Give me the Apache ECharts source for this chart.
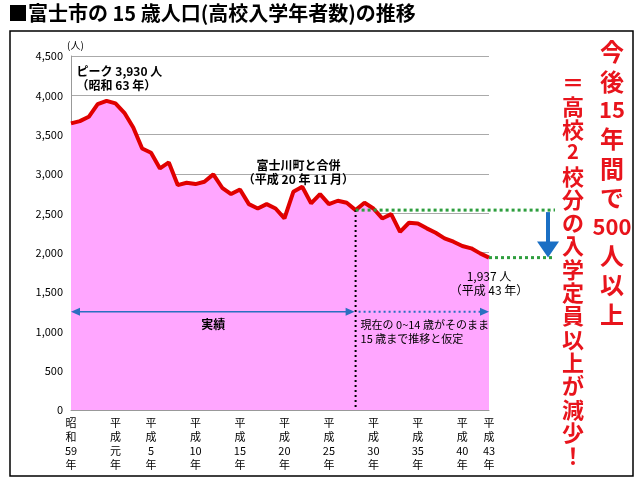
<!DOCTYPE html>
<html>
<head>
<meta charset="utf-8">
<script src="https://cdn.jsdelivr.net/npm/echarts@6/dist/echarts.min.js"></script>
<style>
	html, body { margin: 0; padding: 0; background: #fff; }
	#main { width: 640px; height: 488px; }
</style>
</head>
<body>
<div id="main"></div>
<script>
	'use strict'
	/*-----data-----*/
	var years = ['昭和59年', '昭和60年', '昭和61年', '昭和62年', '昭和63年', '平成元年'];
	for (var h = 2; h <= 43; h++) years.push('平成' + h + '年');
	var population = [3643, 3672, 3727, 3888, 3930, 3897, 3778, 3592, 3325, 3270,
		3071, 3147, 2859, 2888, 2872, 2901, 2995, 2825, 2745, 2804,
		2617, 2562, 2617, 2562, 2435, 2774, 2838, 2627, 2745, 2617,
		2660, 2634, 2541, 2634, 2562, 2435, 2490, 2265, 2380, 2372,
		2309, 2253, 2182, 2139, 2084, 2055, 1991, 1937];
	var shownLabels = [0, 5, 9, 14, 19, 24, 29, 34, 39, 44, 47];
	var currentIndex = 32;
	var yTicks = [0, 500, 1000, 1500, 2000, 2500, 3000, 3500, 4000, 4500];
	var col1 = ['今', '後', '15', '年', '間', 'で', '500', '人', '以', '上'];
	var col2 = ['＝', '高', '校', '2', '校', '分', 'の', '入', '学', '定', '員', '以', '上', 'が', '減', '少', '！'];

	var font = '"Noto Sans CJK JP", sans-serif';
	var chart = echarts.init(document.getElementById('main'));
	var option = {
		animation: false,
		grid: { left: 71, right: 151, top: 56, bottom: 78 },
		xAxis: {
			type: 'category',
			data: years,
			boundaryGap: false,
			axisTick: { show: false },
			axisLine: { lineStyle: { color: '#999' } },
			axisLabel: {
				interval: function(i) { return shownLabels.indexOf(i) >= 0; },
				formatter: function(v) {
					var s = v.replace('年', '');
					var m = s.match(/^(..)(.*)$/);
					return m[1][0] + '\n' + m[1][1] + '\n' + m[2] + '\n年';
				},
				fontFamily: font, fontSize: 11, color: '#000', lineHeight: 14, margin: 6
			},
			splitLine: { show: false }
		},
		yAxis: {
			type: 'value',
			min: yTicks[0], max: yTicks[yTicks.length - 1], interval: 500,
			axisLine: { show: true, lineStyle: { color: '#999' } },
			axisTick: { show: false },
			axisLabel: {
				fontFamily: font, fontSize: 11, color: '#000',
				formatter: function(v) { return v.toLocaleString('en-US'); }
			},
			splitLine: { lineStyle: { color: '#aaa' } }
		},
		series: [{
			type: 'line',
			data: population,
			symbol: 'none',
			lineStyle: { color: '#e00000', width: 4 },
			areaStyle: { color: '#ffa6ff', opacity: 1 }
		}]
	};
	chart.setOption(option);

	/*-----annotations-----*/
	var p0 = chart.convertToPixel({ seriesIndex: 0 }, [0, 0]);
	var pCur = chart.convertToPixel({ seriesIndex: 0 }, [currentIndex, population[currentIndex]]);
	var pEnd = chart.convertToPixel({ seriesIndex: 0 }, [population.length - 1, population[population.length - 1]]);
	var pPeak = chart.convertToPixel({ seriesIndex: 0 }, [4, population[4]]);
	var pMerge = chart.convertToPixel({ seriesIndex: 0 }, [24, population[24]]);
	var yArrow = chart.convertToPixel({ seriesIndex: 0 }, [0, 1250])[1];
	var txt = function(x, y, text, extra) {
		return { type: 'text', x: x, y: y, z: 10, style: Object.assign({
			text: text, font: '11px ' + font, fill: '#000', lineHeight: 14
		}, extra || {}) };
	};
	var g = [
		{ type: 'rect', shape: { x: 10, y: 31, width: 623, height: 445 }, style: { fill: 'none', stroke: '#000', lineWidth: 1.5 } },
		{ type: 'text', x: 8, y: 3, style: { text: '■富士市の 15 歳人口(高校入学年者数)の推移', font: 'bold 20px ' + font, fill: '#000' } },
		txt(p0[0] - 4, 38, '(人)', { font: '10px ' + font }),
		txt(pPeak[0] - 30, 64, 'ピーク 3,930 人\n（昭和 63 年）', { font: 'bold 12px ' + font }),
		txt(pMerge[0] + 14, 158, '富士川町と合併\n（平成 20 年 11 月）', { font: 'bold 12px ' + font, align: 'center' }),
		txt(pEnd[0], 269, '1,937 人\n（平成 43 年）', { font: '12px ' + font, align: 'center' }),
		{ type: 'line', z: 5, shape: { x1: pCur[0], y1: pCur[1], x2: pCur[0], y2: p0[1] }, style: { stroke: '#000', lineWidth: 2, lineDash: [2, 3] } },
		{ type: 'line', z: 5, shape: { x1: pCur[0], y1: pCur[1], x2: 555, y2: pCur[1] }, style: { stroke: '#2e9e3e', lineWidth: 3, lineDash: [3, 3] } },
		{ type: 'line', z: 5, shape: { x1: pEnd[0], y1: pEnd[1], x2: 555, y2: pEnd[1] }, style: { stroke: '#2e9e3e', lineWidth: 3, lineDash: [3, 3] } },
		{ type: 'line', z: 6, shape: { x1: 548, y1: pCur[1] + 2, x2: 548, y2: pEnd[1] - 14 }, style: { stroke: '#1a6fc4', lineWidth: 4 } },
		{ type: 'polygon', z: 6, shape: { points: [[537, pEnd[1] - 16], [559, pEnd[1] - 16], [548, pEnd[1]]] }, style: { fill: '#1a6fc4' } },
		{ type: 'line', z: 5, shape: { x1: p0[0] + 6, y1: yArrow, x2: pCur[0] - 6, y2: yArrow }, style: { stroke: '#2a6fc0', lineWidth: 1.5 } },
		{ type: 'polygon', z: 5, shape: { points: [[p0[0], yArrow], [p0[0] + 9, yArrow - 4], [p0[0] + 9, yArrow + 4]] }, style: { fill: '#2a6fc0' } },
		{ type: 'polygon', z: 5, shape: { points: [[pCur[0] - 1, yArrow], [pCur[0] - 10, yArrow - 4], [pCur[0] - 10, yArrow + 4]] }, style: { fill: '#2a6fc0' } },
		{ type: 'line', z: 5, shape: { x1: pCur[0] + 3, y1: yArrow, x2: pEnd[0] - 8, y2: yArrow }, style: { stroke: '#2a6fc0', lineWidth: 2, lineDash: [2, 3] } },
		{ type: 'polygon', z: 5, shape: { points: [[pEnd[0], yArrow], [pEnd[0] - 9, yArrow - 4], [pEnd[0] - 9, yArrow + 4]] }, style: { fill: '#2a6fc0' } },
		txt((p0[0] + pCur[0]) / 2, yArrow + 6, '実績', { font: 'bold 12px ' + font, align: 'center' }),
		txt(pCur[0] + 5, yArrow + 6, '現在の 0~14 歳がそのまま\n15 歳まで推移と仮定', { font: '11px ' + font })
	];
	var yy = 40;
	col1.forEach(function(c) {
		var num = /\d/.test(c);
		g.push({ type: 'text', x: 612, y: yy, style: { text: c, font: 'bold ' + (num ? 22 : 24) + 'px ' + font, fill: '#e8141c', align: 'center' } });
		yy += num ? 28 : 29.5;
	});
	yy = 72;
	col2.forEach(function(c) {
		var num = /\d/.test(c);
		g.push({ type: 'text', x: 573, y: yy, style: { text: c, font: 'bold ' + (num ? 20 : 22) + 'px ' + font, fill: '#e8141c', align: 'center' } });
		yy += 23.3;
	});
	chart.setOption({ graphic: g });
</script>
</body>
</html>
